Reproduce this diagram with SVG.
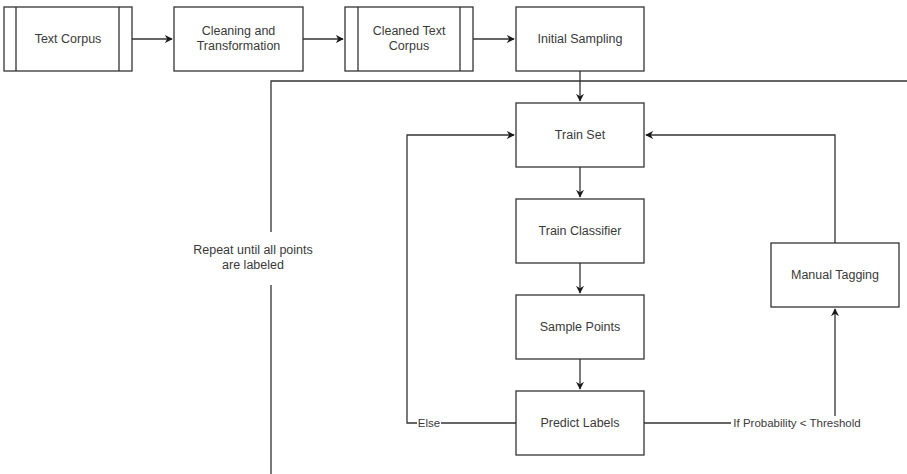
<svg xmlns="http://www.w3.org/2000/svg" width="907" height="474" viewBox="0 0 907 474">
<defs>
<marker id="ah" viewBox="0 0 10 10" refX="9" refY="5" markerWidth="8" markerHeight="8" orient="auto" markerUnits="userSpaceOnUse">
<path d="M0,0 L10,5 L0,10 L3,5 Z" fill="#1a1a1a"/>
</marker>
<style>
.box{fill:#fff;stroke:#333;stroke-width:1.3}
.ln{fill:none;stroke:#333;stroke-width:1.3}
.t{font-family:"Liberation Sans",Arial,sans-serif;font-size:12.5px;fill:#3a3a3a;text-anchor:middle}
.lbl{font-family:"Liberation Sans",Arial,sans-serif;font-size:11.5px;fill:#3a3a3a;text-anchor:middle}
</style>
</defs>
<rect width="907" height="474" fill="#fff"/>
<g id="connectors">
<path class="ln" d="M132,39 H172" marker-end="url(#ah)"/>
<path class="ln" d="M303,39 H343" marker-end="url(#ah)"/>
<path class="ln" d="M473,39 H514" marker-end="url(#ah)"/>
<path class="ln" d="M580,71 V101" marker-end="url(#ah)"/>
<path class="ln" d="M580,167 V197" marker-end="url(#ah)"/>
<path class="ln" d="M580,263 V293" marker-end="url(#ah)"/>
<path class="ln" d="M580,359 V389" marker-end="url(#ah)"/>
<path class="ln" d="M516,423 H441 M417,423 H407 V135 H514" marker-end="url(#ah)"/>
<path class="ln" d="M644,423 H731 M835,416 V309" marker-end="url(#ah)"/>
<path class="ln" d="M835,243 V135 H646" marker-end="url(#ah)"/>
<path class="ln" d="M907,81 H271 V232 M271,285 V474"/>
<text class="lbl" x="429" y="427">Else</text>
<text class="lbl" x="797" y="427">If Probability &lt; Threshold</text>
</g>
<g id="text-corpus">
<rect class="box" x="4" y="7" width="128" height="64"/>
<path class="ln" d="M16,7 V71 M119,7 V71"/>
<text class="t" x="68" y="43">Text Corpus</text>
</g>
<g id="cleaning">
<rect class="box" x="174" y="7" width="129" height="64"/>
<text class="t" x="238.5" y="35">Cleaning and</text>
<text class="t" x="238.5" y="50">Transformation</text>
</g>
<g id="cleaned-corpus">
<rect class="box" x="345" y="7" width="128" height="64"/>
<path class="ln" d="M358,7 V71 M460,7 V71"/>
<text class="t" x="409" y="35">Cleaned Text</text>
<text class="t" x="409" y="50">Corpus</text>
</g>
<g id="initial-sampling">
<rect class="box" x="516" y="7" width="128" height="64"/>
<text class="t" x="580" y="43">Initial Sampling</text>
</g>
<g id="repeat-label">
<text class="t" x="253" y="254">Repeat until all points</text>
<text class="t" x="253" y="269">are labeled</text>
</g>
<g id="train-set">
<rect class="box" x="516" y="103" width="128" height="64"/>
<text class="t" x="580" y="139">Train Set</text>
</g>
<g id="train-classifier">
<rect class="box" x="516" y="199" width="128" height="64"/>
<text class="t" x="580" y="235">Train Classifier</text>
</g>
<g id="sample-points">
<rect class="box" x="516" y="295" width="128" height="64"/>
<text class="t" x="580" y="331">Sample Points</text>
</g>
<g id="predict-labels">
<rect class="box" x="516" y="391" width="128" height="64"/>
<text class="t" x="580" y="427">Predict Labels</text>
</g>
<g id="manual-tagging">
<rect class="box" x="771" y="243" width="128" height="64"/>
<text class="t" x="835" y="279">Manual Tagging</text>
</g>
</svg>
